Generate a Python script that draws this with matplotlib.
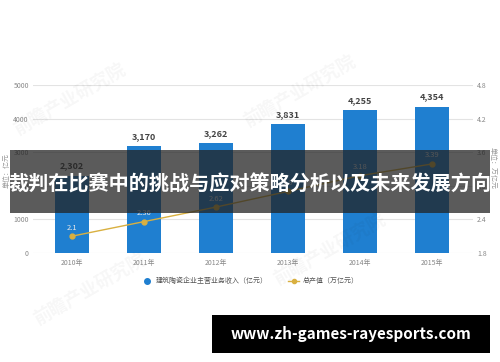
import matplotlib
matplotlib.use("Agg")
from matplotlib import pyplot as plt
from matplotlib.lines import Line2D
from matplotlib.patches import Rectangle

plt.rcParams["font.family"] = ["Noto Sans CJK SC", "DejaVu Sans"]

# Data:
years = ["2010年", "2011年", "2012年", "2013年", "2014年", "2015年"]
revenue = [2302, 3170, 3262, 3831, 4255, 4354]
output_value = [2.10, 2.36, 2.62, 2.90, 3.18, 3.39]
left_ticks = [0, 1000, 2000, 3000, 4000, 5000]
right_ticks = [1.8, 2.4, 3.0, 3.6, 4.2, 4.8]

BAR_COLOR = "#1f7fd0"
LINE_COLOR = "#d9b040"
W, H = 500, 362

fig = plt.figure(figsize=(W / 100, H / 100), dpi=100)
fig.patch.set_facecolor("white")

# Axes setup (pixel positions):
ax = fig.add_axes([33 / W, (H - 253) / H, 440 / W, 168 / H])
ax2 = ax.twinx()
ax.set_zorder(1)
ax2.set_zorder(2)
ax.patch.set_visible(False)
ax2.patch.set_visible(False)

x = list(range(len(years)))
ax.bar(x, revenue, width=0.47, color=BAR_COLOR, zorder=2)
for xi, v in zip(x, revenue):
    ax.text(xi, v + 160, f"{v:,}", ha="center", va="bottom",
            fontsize=6.5, fontweight="bold", color="#444444")

ax.set_xlim(-0.54, 5.57)
ax.set_ylim(0, 5000)
ax.set_yticks(left_ticks)
ax.set_yticklabels([str(t) for t in left_ticks])
ax.set_xticks(x)
ax.set_xticklabels(years)
ax.yaxis.grid(True, color="#e3e3e3", linewidth=0.8, zorder=0)
ax.set_axisbelow(True)
for spine in ax.spines.values():
    spine.set_visible(False)
ax.tick_params(axis="both", length=0, labelsize=5, labelcolor="#888888")
ax.tick_params(axis="y", pad=3)
ax.tick_params(axis="x", pad=4)

ax2.plot(x, output_value, color=LINE_COLOR, linewidth=1.0, marker="o",
         markersize=3.5, zorder=3)
for xi, v in zip(x, output_value):
    ax2.text(xi, v + 0.08, f"{v:g}", ha="center", va="bottom",
             fontsize=5.5, color="#e8e8e8")
ax2.set_ylim(1.8, 4.8)
ax2.set_yticks(right_ticks)
ax2.set_yticklabels([f"{t:.1f}" for t in right_ticks])
for spine in ax2.spines.values():
    spine.set_visible(False)
ax2.tick_params(axis="y", length=0, labelsize=5, labelcolor="#888888", pad=3)

# Axis unit labels:
fig.text(7 / W, 1 - 170 / H, "单位：亿元", rotation=90, ha="center",
         va="center", fontsize=5, color="#999999")
fig.text(493 / W, 1 - 168 / H, "单位：万亿元", rotation=270, ha="center",
         va="center", fontsize=5, color="#999999")

# Legend:
handles = [
    Line2D([], [], color=BAR_COLOR, marker="o", linestyle="none",
           markersize=4),
    Line2D([], [], color=LINE_COLOR, marker="o", markersize=3,
           linewidth=1.0),
]
labels = ["建筑陶瓷企业主营业务收入（亿元）", "总产值（万亿元）"]
fig.legend(handles, labels, loc="center", bbox_to_anchor=(0.5, 1 - 281 / H),
           ncol=2, frameon=False, fontsize=5, labelcolor="#555555",
           handlelength=1.5, columnspacing=3, handletextpad=0.5)

# Faint watermarks:
for wx, wy in [(70, 100), (300, 92), (90, 290), (330, 250)]:
    fig.text(wx / W, 1 - wy / H, "前瞻产业研究院", rotation=30,
             ha="center", va="center", fontsize=13, fontweight="bold",
             color="#000000", alpha=0.035)

# Overlay banner:
fig.patches.append(Rectangle((10 / W, 1 - 213 / H), 480 / W, 63 / H,
                             transform=fig.transFigure, facecolor="#222222",
                             alpha=0.74, edgecolor="none", zorder=5))
fig.text(250 / W, 1 - 184 / H, "裁判在比赛中的挑战与应对策略分析以及未来发展方向",
         ha="center", va="center", fontsize=14.5, fontweight="bold",
         color="white", zorder=6)

# Site box:
fig.patches.append(Rectangle((212 / W, 1 - 353 / H), 278 / W, 38 / H,
                             transform=fig.transFigure, facecolor="black",
                             edgecolor="none", zorder=5))
fig.text(351 / W, 1 - 334 / H, "www.zh-games-rayesports.com",
         ha="center", va="center", fontsize=11, fontweight="bold",
         color="white", zorder=6)

fig.savefig("out.png", dpi=100)
